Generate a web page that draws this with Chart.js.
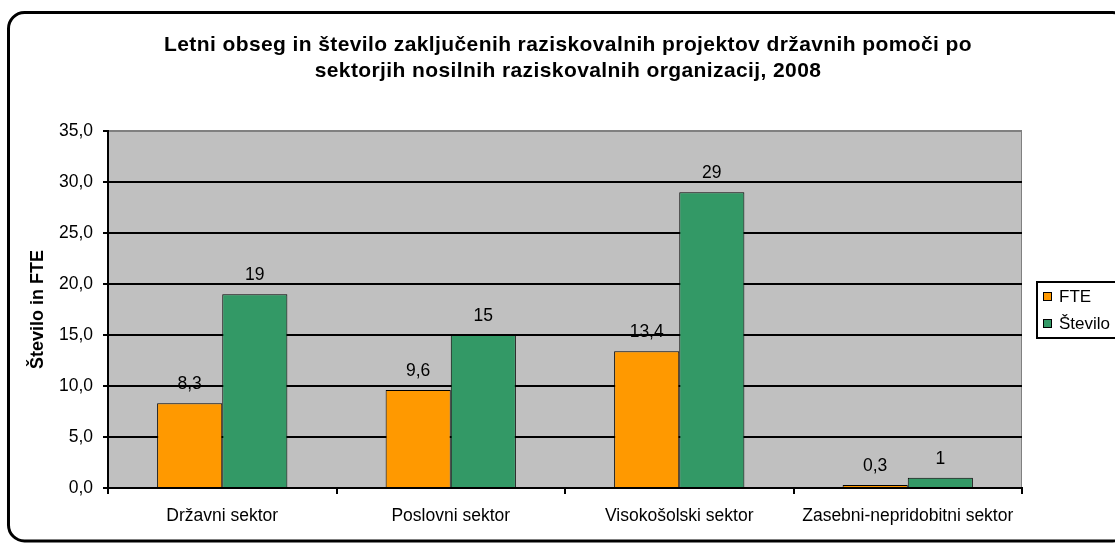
<!DOCTYPE html>
<html>
<head>
<meta charset="utf-8">
<script src="https://cdn.jsdelivr.net/npm/chart.js@4"></script>
<style>
html,body{margin:0;padding:0;background:#fff;}
canvas{display:block;}
</style>
</head>
<body>
<canvas id="c" width="1115" height="543"></canvas>
<script>
const categories = ['Državni sektor', 'Poslovni sektor', 'Visokošolski sektor', 'Zasebni-nepridobitni sektor'];
const seriesNames = ['FTE', 'Število'];
const fteValues = [8.3, 9.6, 13.4, 0.3];
const steviloValues = [19, 15, 29, 1];
const titleLines = ['Letni obseg in število zaključenih raziskovalnih projektov državnih pomoči po', 'sektorjih nosilnih raziskovalnih organizacij, 2008'];
const yAxisTitle = 'Število in FTE';
const yMin = 0, yMax = 35, yStep = 5;

const FONT = '"Liberation Sans", Arial, sans-serif';
const fmtComma = v => v.toFixed(1).replace('.', ',');

const framePlugin = {
  id: 'frame',
  beforeDraw(chart) {
    const {ctx, chartArea: a} = chart;
    ctx.save();
    ctx.fillStyle = '#ffffff';
    ctx.fillRect(0, 0, chart.width, chart.height);
    ctx.fillStyle = '#C0C0C0';
    ctx.fillRect(a.left, a.top, a.right - a.left, a.bottom - a.top);
    ctx.strokeStyle = '#808080';
    ctx.lineWidth = 1;
    ctx.strokeRect(a.left + 0.5, a.top + 0.5, a.right - a.left - 1, a.bottom - a.top - 1);
    ctx.restore();
  },
  afterDraw(chart) {
    const {ctx} = chart;
    ctx.save();
    // outer rounded frame
    ctx.strokeStyle = '#000';
    ctx.lineWidth = 3;
    ctx.beginPath();
    ctx.roundRect(8.5, 12.5, 1120, 528.5, 16);
    ctx.stroke();
    // title
    ctx.fillStyle = '#000';
    ctx.font = 'bold 21px ' + FONT;
    if ('letterSpacing' in ctx) ctx.letterSpacing = '0.4px';
    ctx.textAlign = 'center';
    ctx.textBaseline = 'middle';
    titleLines.forEach((t, i) => ctx.fillText(t, 568, 45 + i * 26));
    if ('letterSpacing' in ctx) ctx.letterSpacing = '0px';
    // legend
    ctx.lineWidth = 2;
    ctx.strokeRect(1037, 282, 100, 56);
    ctx.font = '17px ' + FONT;
    ctx.textAlign = 'left';
    chart.data.datasets.forEach((ds, i) => {
      const y = 297 + i * 27;
      ctx.fillStyle = ds.backgroundColor;
      ctx.fillRect(1043, y - 5, 9, 9);
      ctx.lineWidth = 1;
      ctx.strokeStyle = '#000';
      ctx.strokeRect(1043.5, y - 4.5, 8, 8);
      ctx.fillStyle = '#000';
      ctx.fillText(ds.label, 1059, y);
    });
    ctx.restore();
  },
  afterDatasetsDraw(chart) {
    const {ctx} = chart;
    ctx.save();
    ctx.fillStyle = '#000';
    ctx.font = '17.5px ' + FONT;
    ctx.textAlign = 'center';
    ctx.textBaseline = 'middle';
    chart.data.datasets.forEach((ds, di) => {
      const meta = chart.getDatasetMeta(di);
      meta.data.forEach((el, i) => {
        const v = ds.data[i];
        const txt = di === 0 ? fmtComma(v) : String(v);
        ctx.fillText(txt, el.x, el.y - 19);
      });
    });
    ctx.restore();
  }
};

new Chart(document.getElementById('c'), {
  type: 'bar',
  data: {
    labels: categories,
    datasets: [
      {label: seriesNames[0], data: fteValues, backgroundColor: '#FF9900', borderColor: '#000', borderWidth: 1},
      {label: seriesNames[1], data: steviloValues, backgroundColor: '#339966', borderColor: '#000', borderWidth: 1}
    ]
  },
  options: {
    responsive: false,
    animation: false,
    devicePixelRatio: 1,
    layout: {padding: {top: 131, right: 93, bottom: 0, left: 0}},
    datasets: {bar: {categoryPercentage: 0.57, barPercentage: 1.0}},
    plugins: {legend: {display: false}, title: {display: false}, tooltip: {enabled: false}},
    scales: {
      x: {
        afterFit: s => { s.height = 55; },
        grid: {offset: true, drawOnChartArea: false, drawTicks: true, tickLength: 6, color: '#000', lineWidth: 2},
        border: {display: true, color: '#000', width: 2},
        ticks: {color: '#000', font: {family: FONT, size: 17.5}, padding: 12, maxRotation: 0, autoSkip: false}
      },
      y: {
        min: yMin, max: yMax,
        afterFit: s => { s.width = 108; },
        grid: {
          color: c => (c.tick && c.tick.value === yMax) ? '#808080' : '#000',
          tickColor: '#000',
          lineWidth: 2, tickLength: 5
        },
        border: {display: true, color: '#000', width: 2},
        ticks: {stepSize: yStep, color: '#000', font: {family: FONT, size: 17.5}, padding: 10, callback: v => fmtComma(v)},
        title: {display: true, text: yAxisTitle, color: '#000', font: {family: FONT, size: 18, weight: 'bold'}, padding: {top: 27, bottom: 0}}
      }
    }
  },
  plugins: [framePlugin]
});
</script>
</body>
</html>
